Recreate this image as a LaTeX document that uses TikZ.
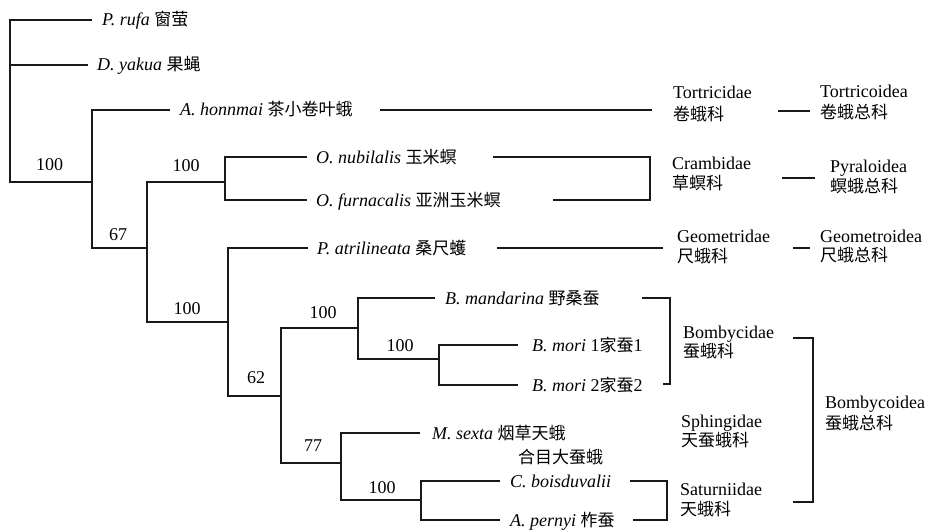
\documentclass[tikz,border=0pt]{standalone}
\usepackage{fontspec}
\setmainfont{Liberation Serif}
\newfontfamily\cjk{Noto Sans CJK SC}
\newcommand\zhtxt[1]{{\cjk\fontsize{17}{20}\selectfont #1}}
\tikzset{
  leaf/.style={anchor=west, inner sep=0pt, text height=12pt, text depth=0pt, font=\fontsize{18}{20}\selectfont},
  fam/.style={anchor=base west, inner sep=0pt, font=\fontsize{18}{20}\selectfont},
  boot/.style={anchor=base, inner sep=0pt, font=\fontsize{18}{20}\selectfont},
  branch/.style={draw=black!90, line width=1.3pt}
}
\begin{document}
\begin{tikzpicture}[x=1pt,y=-1pt]
\useasboundingbox (0,0) rectangle (928,532);
% internal nodes
\coordinate (r) at (10,65);
\coordinate (n1) at (92,182);
\coordinate (n2) at (147,248);
\coordinate (n3) at (225,182);
\coordinate (n4) at (228,322);
\coordinate (n5) at (281,396);
\coordinate (n6) at (358,328);
\coordinate (n7) at (341,463);
\coordinate (n8) at (439,359);
\coordinate (n9) at (421,500);
% leaf line ends
\coordinate (epr) at (92,20);
\coordinate (edy) at (88,65);
\coordinate (eah) at (170,110);
\coordinate (eon) at (307,157);
\coordinate (eof) at (307,200);
\coordinate (epa) at (308,248);
\coordinate (ebm) at (435,298);
\coordinate (em1) at (518,345);
\coordinate (em2) at (518,385);
\coordinate (ems) at (420,433);
\coordinate (ecb) at (500,481);
\coordinate (eap) at (500,520);
% leaf texts
\node[leaf] (tpr) at (102,20) {\textit{P. rufa} \zhtxt{窗萤}};
\node[leaf] (tdy) at (97,65) {\textit{D. yakua} \zhtxt{果蝇}};
\node[leaf] (tah) at (180,110) {\textit{A. honnmai} \zhtxt{茶小卷叶蛾}};
\node[leaf] (ton) at (316,157) {\textit{O. nubilalis} \zhtxt{玉米螟}};
\node[leaf] (tof) at (316,200) {\textit{O. furnacalis} \zhtxt{亚洲玉米螟}};
\node[leaf] (tpa) at (317,248) {\textit{P. atrilineata} \zhtxt{桑尺蠖}};
\node[leaf] (tbm) at (445,298) {\textit{B. mandarina} \zhtxt{野桑蚕}};
\node[leaf] (tm1) at (532,345) {\textit{B. mori} 1\zhtxt{家蚕}1};
\node[leaf] (tm2) at (532,385) {\textit{B. mori} 2\zhtxt{家蚕}2};
\node[leaf] (tms) at (432,433) {\textit{M. sexta} \zhtxt{烟草天蛾}};
\node[leaf] (thm) at (518,457) {\zhtxt{合目大蚕蛾}};
\node[leaf] (tcb) at (510,481) {\textit{C. boisduvalii}};
\node[leaf] (tap) at (510,520) {\textit{A. pernyi} \zhtxt{柞蚕}};
% tree
\draw[branch] (epr) -| (r) |- (n1);
\draw[branch] (r) -- (edy);
\draw[branch] (eah) -| (n1) |- (n2);
\draw[branch] (n3) -| (n2) |- (n4);
\draw[branch] (eon) -| (n3) |- (eof);
\draw[branch] (epa) -| (n4) |- (n5);
\draw[branch] (n6) -| (n5) |- (n7);
\draw[branch] (ebm) -| (n6) |- (n8);
\draw[branch] (em1) -| (n8) |- (em2);
\draw[branch] (ems) -| (n7) |- (n9);
\draw[branch] (ecb) -| (n9) |- (eap);
% bootstrap values
\node[boot] (b0) at (49.5,170) {100};
\node[boot] (b1) at (186,171) {100};
\node[boot] (b2) at (118,240) {67};
\node[boot] (b3) at (187,314) {100};
\node[boot] (b4) at (256,383) {62};
\node[boot] (b5) at (323,318) {100};
\node[boot] (b6) at (400,351) {100};
\node[boot] (b7) at (313,451) {77};
\node[boot] (b8) at (382,493) {100};
% family labels
\node[fam] (fTo) at (673,99) {Tortricidae};
\node[fam] (fToz) at (673,121) {\zhtxt{卷蛾科}};
\node[fam] (sTo) at (820,98) {Tortricoidea};
\node[fam] (sToz) at (820,119) {\zhtxt{卷蛾总科}};
\node[fam] (fCr) at (672,169) {Crambidae};
\node[fam] (fCrz) at (672,189) {\zhtxt{草螟科}};
\node[fam] (sPy) at (830,172) {Pyraloidea};
\node[fam] (sPyz) at (830,192) {\zhtxt{螟蛾总科}};
\node[fam] (fGe) at (677,242) {Geometridae};
\node[fam] (fGez) at (677,262) {\zhtxt{尺蛾科}};
\node[fam] (sGe) at (820,242) {Geometroidea};
\node[fam] (sGez) at (820,261) {\zhtxt{尺蛾总科}};
\node[fam] (fBo) at (683,338) {Bombycidae};
\node[fam] (fBoz) at (683,357) {\zhtxt{蚕蛾科}};
\node[fam] (fSp) at (681,427) {Sphingidae};
\node[fam] (fSpz) at (681,446) {\zhtxt{天蚕蛾科}};
\node[fam] (fSa) at (680,495) {Saturniidae};
\node[fam] (fSaz) at (680,515) {\zhtxt{天蛾科}};
\node[fam] (sBo) at (825,408) {Bombycoidea};
\node[fam] (sBoz) at (825,429) {\zhtxt{蚕蛾总科}};
% right-side connectors
\coordinate (ah1) at (380,110); \coordinate (ah2) at (652,110);
\draw[branch] (ah1) -- (ah2);
\coordinate (to1) at (778,111); \coordinate (to2) at (810,111);
\draw[branch] (to1) -- (to2);
\coordinate (cr1) at (493,157); \coordinate (crv) at (650,178); \coordinate (cr2) at (553,200);
\draw[branch] (cr1) -| (crv) |- (cr2);
\coordinate (py1) at (782,178); \coordinate (py2) at (815,178);
\draw[branch] (py1) -- (py2);
\coordinate (ge1) at (497,248); \coordinate (ge2) at (663,248);
\draw[branch] (ge1) -- (ge2);
\coordinate (gs1) at (793,248); \coordinate (gs2) at (810,248);
\draw[branch] (gs1) -- (gs2);
\coordinate (bo1) at (642,298); \coordinate (bov) at (670,340); \coordinate (bo2) at (663,384);
\draw[branch] (bo1) -| (bov) |- (bo2);
\coordinate (sa1) at (630,481); \coordinate (sav) at (667,500); \coordinate (sa2) at (633,520);
\draw[branch] (sa1) -| (sav) |- (sa2);
\coordinate (bs1) at (793,338); \coordinate (bsv) at (813,420); \coordinate (bs2) at (793,502);
\draw[branch] (bs1) -| (bsv) |- (bs2);
\end{tikzpicture}
\end{document}
